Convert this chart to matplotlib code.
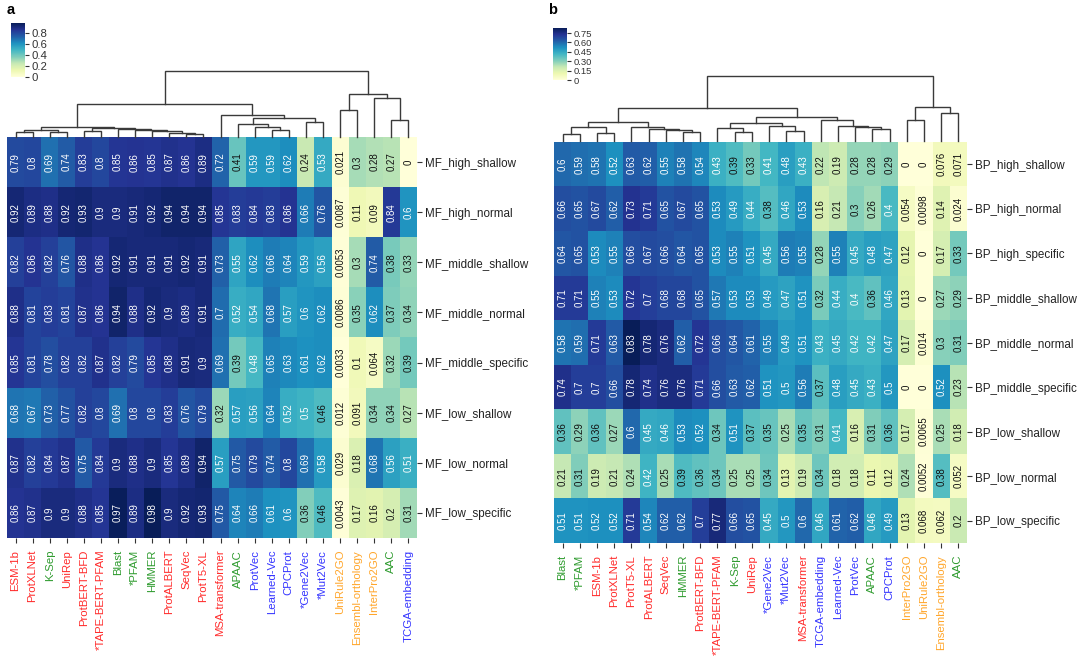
import matplotlib
matplotlib.use('Agg')
import matplotlib.pyplot as plt
import numpy as np
from matplotlib.cm import ScalarMappable
from matplotlib.colors import Normalize

plt.rcParams['font.family'] = ['Liberation Sans', 'DejaVu Sans']

# ---------------- data ----------------
cols_a = ["ESM-1b", "ProtXLNet", "K-Sep", "UniRep", "ProtBERT-BFD", "*TAPE-BERT-PFAM",
          "Blast", "*PFAM", "HMMER", "ProtALBERT", "SeqVec", "ProtT5-XL", "MSA-transformer",
          "APAAC", "ProtVec", "Learned-Vec", "CPCProt", "*Gene2Vec", "*Mut2Vec",
          "UniRule2GO", "Ensembl-orthology", "InterPro2GO", "AAC", "TCGA-embedding"]
rows_a = ["MF_high_shallow", "MF_high_normal", "MF_middle_shallow", "MF_middle_normal",
          "MF_middle_specific", "MF_low_shallow", "MF_low_normal", "MF_low_specific"]
vals_a = [
    [0.79, 0.8, 0.69, 0.74, 0.83, 0.8, 0.85, 0.86, 0.85, 0.87, 0.86, 0.89, 0.72, 0.41, 0.59, 0.59, 0.62, 0.24, 0.53, 0.021, 0.3, 0.28, 0.27, 0],
    [0.92, 0.89, 0.88, 0.92, 0.93, 0.9, 0.9, 0.91, 0.92, 0.94, 0.94, 0.94, 0.85, 0.83, 0.84, 0.83, 0.86, 0.66, 0.76, 0.0087, 0.11, 0.09, 0.84, 0.6],
    [0.82, 0.86, 0.82, 0.76, 0.88, 0.86, 0.92, 0.91, 0.91, 0.91, 0.92, 0.91, 0.73, 0.55, 0.62, 0.66, 0.64, 0.59, 0.56, 0.0053, 0.3, 0.74, 0.38, 0.33],
    [0.88, 0.81, 0.83, 0.81, 0.87, 0.86, 0.94, 0.88, 0.92, 0.9, 0.89, 0.91, 0.7, 0.52, 0.54, 0.68, 0.57, 0.6, 0.62, 0.0086, 0.35, 0.62, 0.37, 0.34],
    [0.85, 0.81, 0.78, 0.82, 0.82, 0.87, 0.82, 0.79, 0.85, 0.88, 0.91, 0.9, 0.69, 0.39, 0.48, 0.65, 0.63, 0.61, 0.62, 0.0033, 0.1, 0.064, 0.32, 0.39],
    [0.68, 0.67, 0.73, 0.77, 0.82, 0.8, 0.69, 0.8, 0.8, 0.83, 0.76, 0.79, 0.32, 0.57, 0.56, 0.64, 0.52, 0.5, 0.46, 0.012, 0.091, 0.34, 0.34, 0.27],
    [0.87, 0.82, 0.84, 0.87, 0.75, 0.84, 0.9, 0.88, 0.9, 0.85, 0.89, 0.94, 0.57, 0.75, 0.79, 0.74, 0.8, 0.69, 0.58, 0.029, 0.18, 0.68, 0.56, 0.51],
    [0.86, 0.87, 0.9, 0.9, 0.88, 0.85, 0.97, 0.89, 0.98, 0.9, 0.92, 0.93, 0.75, 0.64, 0.66, 0.61, 0.6, 0.36, 0.46, 0.0043, 0.17, 0.16, 0.2, 0.31],
]
# column dendrogram: (left, right, height); node ids >= 24 are earlier merges
link_a = [(10, 11, 8), (9, 24, 13), (8, 25, 17), (7, 26, 20), (6, 27, 23),
          (0, 1, 15), (2, 3, 15), (29, 30, 21), (4, 5, 18), (32, 28, 27),
          (31, 33, 30), (15, 16, 22), (14, 35, 30), (13, 36, 40), (17, 18, 45),
          (37, 38, 58), (12, 39, 65), (34, 40, 98), (19, 20, 80), (22, 23, 52),
          (21, 43, 115), (42, 44, 127), (41, 45, 198)]

cols_b = ["Blast", "*PFAM", "ESM-1b", "ProtXLNet", "ProtT5-XL", "ProtALBERT", "SeqVec",
          "HMMER", "ProtBERT-BFD", "*TAPE-BERT-PFAM", "K-Sep", "UniRep", "*Gene2Vec",
          "*Mut2Vec", "MSA-transformer", "TCGA-embedding", "Learned-Vec", "ProtVec",
          "APAAC", "CPCProt", "InterPro2GO", "UniRule2GO", "Ensembl-orthology", "AAC"]
rows_b = ["BP_high_shallow", "BP_high_normal", "BP_high_specific", "BP_middle_shallow",
          "BP_middle_normal", "BP_middle_specific", "BP_low_shallow", "BP_low_normal",
          "BP_low_specific"]
vals_b = [
    [0.6, 0.59, 0.58, 0.52, 0.63, 0.62, 0.55, 0.58, 0.54, 0.43, 0.39, 0.33, 0.41, 0.48, 0.43, 0.22, 0.19, 0.28, 0.28, 0.29, 0, 0, 0.076, 0.071],
    [0.66, 0.65, 0.67, 0.62, 0.73, 0.71, 0.65, 0.67, 0.65, 0.53, 0.49, 0.44, 0.38, 0.46, 0.53, 0.16, 0.21, 0.3, 0.26, 0.4, 0.054, 0.0098, 0.14, 0.024],
    [0.64, 0.65, 0.53, 0.55, 0.66, 0.67, 0.66, 0.64, 0.65, 0.53, 0.55, 0.51, 0.45, 0.56, 0.55, 0.28, 0.55, 0.45, 0.48, 0.47, 0.12, 0, 0.17, 0.33],
    [0.71, 0.71, 0.55, 0.53, 0.72, 0.7, 0.68, 0.68, 0.65, 0.57, 0.53, 0.53, 0.49, 0.47, 0.51, 0.32, 0.44, 0.4, 0.36, 0.46, 0.13, 0, 0.27, 0.29],
    [0.58, 0.59, 0.71, 0.63, 0.83, 0.78, 0.76, 0.62, 0.72, 0.66, 0.64, 0.61, 0.55, 0.49, 0.51, 0.43, 0.45, 0.42, 0.42, 0.47, 0.17, 0.014, 0.3, 0.31],
    [0.74, 0.7, 0.7, 0.66, 0.78, 0.74, 0.76, 0.76, 0.71, 0.66, 0.63, 0.62, 0.51, 0.5, 0.56, 0.37, 0.48, 0.45, 0.43, 0.5, 0, 0, 0.52, 0.23],
    [0.36, 0.29, 0.36, 0.27, 0.6, 0.45, 0.46, 0.53, 0.52, 0.34, 0.51, 0.37, 0.35, 0.25, 0.35, 0.31, 0.41, 0.16, 0.31, 0.36, 0.17, 0.0065, 0.25, 0.18],
    [0.21, 0.31, 0.19, 0.21, 0.24, 0.42, 0.25, 0.39, 0.36, 0.34, 0.25, 0.25, 0.34, 0.13, 0.19, 0.34, 0.18, 0.18, 0.11, 0.12, 0.24, 0.0052, 0.38, 0.052],
    [0.51, 0.51, 0.52, 0.52, 0.71, 0.54, 0.62, 0.62, 0.7, 0.77, 0.66, 0.65, 0.45, 0.5, 0.6, 0.46, 0.61, 0.62, 0.46, 0.49, 0.13, 0.068, 0.062, 0.2],
]
link_b = [(0, 1, 20), (2, 3, 25), (24, 25, 42), (7, 8, 27), (6, 27, 32),
          (5, 28, 36), (4, 29, 42), (26, 30, 55), (10, 11, 28), (9, 32, 38),
          (13, 14, 30), (12, 34, 45), (33, 35, 52), (18, 19, 35), (17, 37, 42),
          (16, 38, 44), (15, 39, 62), (36, 40, 72), (31, 41, 98), (20, 21, 62),
          (22, 23, 82), (43, 44, 100), (42, 45, 192)]

group_of = {
    "ESM-1b": "lm", "ProtXLNet": "lm", "UniRep": "lm", "ProtBERT-BFD": "lm",
    "*TAPE-BERT-PFAM": "lm", "ProtALBERT": "lm", "SeqVec": "lm", "ProtT5-XL": "lm",
    "MSA-transformer": "lm",
    "K-Sep": "seq", "Blast": "seq", "*PFAM": "seq", "HMMER": "seq", "APAAC": "seq", "AAC": "seq",
    "ProtVec": "emb", "Learned-Vec": "emb", "CPCProt": "emb", "*Gene2Vec": "emb",
    "*Mut2Vec": "emb", "TCGA-embedding": "emb",
    "UniRule2GO": "anno", "Ensembl-orthology": "anno", "InterPro2GO": "anno",
}
group_color = {"lm": "#FF2B2B", "seq": "#2E9B2E", "emb": "#3535FF", "anno": "#FFA62B"}

vmax_a, vmax_b = 0.98, 0.83
ticks_a = [0, 0.2, 0.4, 0.6, 0.8]
ticks_b = [0, 0.15, 0.30, 0.45, 0.60, 0.75]
ticklab_a = ["0", "0.2", "0.4", "0.6", "0.8"]
ticklab_b = ["0", "0.15", "0.30", "0.45", "0.60", "0.75"]

# ---------------- figure ----------------
W, H = 1080, 659
fig = plt.figure(figsize=(W / 100, H / 100), dpi=100)
cmap = plt.get_cmap('YlGnBu')


def ax_px(l, t, r, b):
    return fig.add_axes([l / W, 1 - b / H, (r - l) / W, (b - t) / H])


def fmt(v):
    return "0" if v == 0 else f"{v:g}"


def heatmap(box, vals, rows, cols, vmax):
    M = np.array(vals, dtype=float)
    ax = ax_px(*box)
    ax.imshow(M, cmap=cmap, vmin=0, vmax=vmax, aspect='auto', interpolation='nearest')
    for i in range(M.shape[0]):
        for j in range(M.shape[1]):
            v = M[i, j]
            c = 'white' if v / vmax >= 0.475 else '#111111'
            ax.text(j, i, fmt(v), rotation=90, ha='center', va='center',
                    fontsize=7, color=c)
    ax.set_xticks(range(len(cols)))
    ax.set_xticklabels(cols, rotation=90, fontsize=8.2, va='top')
    for lab, name in zip(ax.get_xticklabels(), cols):
        lab.set_color(group_color[group_of[name]])
    ax.yaxis.tick_right()
    ax.set_yticks(range(len(rows)))
    ax.set_yticklabels(rows, fontsize=8.4, color='#222222')
    ax.tick_params(axis='both', length=3.5, width=0.8, pad=2, color='#333333')
    ax.tick_params(axis='x', pad=5)
    for s in ax.spines.values():
        s.set_visible(False)
    return ax


def dendro(box, links, n):
    ax = ax_px(*box)
    xs = {i: float(i) for i in range(n)}
    hs = {i: 0.0 for i in range(n)}
    top = 0
    for k, (a, b, h) in enumerate(links):
        xa, xb = xs[a], xs[b]
        ax.plot([xa, xa, xb, xb], [hs[a], h, h, hs[b]], color='#3a3a3a', lw=1.0,
                solid_joinstyle='miter', clip_on=False)
        xs[n + k] = (xa + xb) / 2
        hs[n + k] = h
        top = max(top, h)
    ax.set_xlim(-0.5, n - 0.5)
    ax.set_ylim(0, top)
    ax.axis('off')


def colorbar(box, vmax, ticks, labels, size):
    cax = ax_px(*box)
    cb = fig.colorbar(ScalarMappable(norm=Normalize(0, vmax), cmap=cmap), cax=cax)
    cb.outline.set_visible(False)
    cb.set_ticks(ticks)
    cb.set_ticklabels(labels)
    cax.tick_params(labelsize=size, length=3, width=0.8, pad=1.5, colors='#333333')


# panel a
heatmap((7, 137, 417, 538), vals_a, rows_a, cols_a, vmax_a)
dendro((7, 70.7, 417, 137), link_a, len(cols_a))
colorbar((11, 23, 25, 77), vmax_a, ticks_a, ticklab_a, 8.2)
fig.text(7 / W, 1 - 3 / H, "a", fontsize=10.5, fontweight='bold', va='top', ha='left')

# panel b
heatmap((554, 142, 967, 543), vals_b, rows_b, cols_b, vmax_b)
dendro((554, 76, 967, 141), link_b, len(cols_b))
colorbar((553, 28, 567, 80), vmax_b, ticks_b, ticklab_b, 6.8)
fig.text(548 / W, 1 - 3 / H, "b", fontsize=10.5, fontweight='bold', va='top', ha='left')

fig.savefig('out.png', dpi=100)
